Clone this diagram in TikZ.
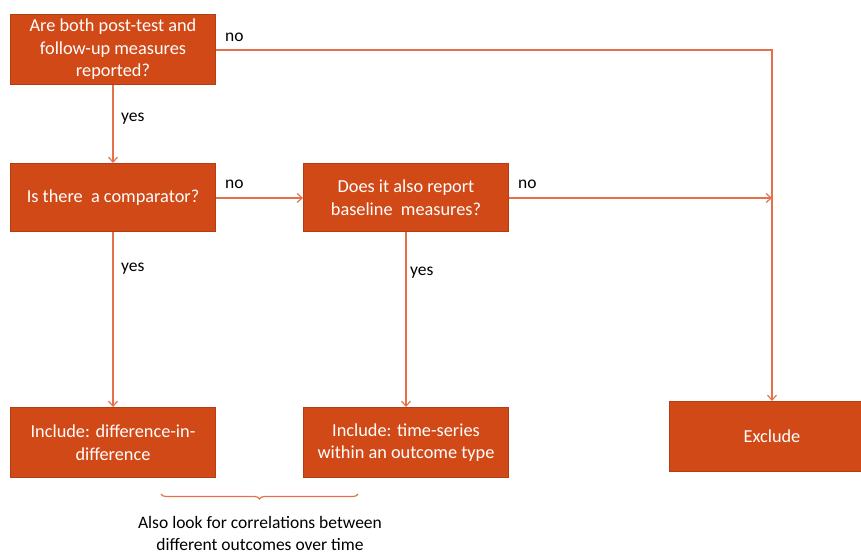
\documentclass[tikz,border=0pt]{standalone}
\usepackage{fontspec}
\setmainfont{Carlito}
\usetikzlibrary{arrows.meta,decorations.pathreplacing}
\definecolor{boxfill}{HTML}{D14917}
\definecolor{boxline}{HTML}{B53D14}
\definecolor{conn}{HTML}{E4714C}
\begin{document}
\begin{tikzpicture}[x=1pt,y=-1pt,
  box/.style={draw=boxline,line width=1pt,fill=boxfill,text=white,minimum width=205pt,minimum height=70pt,align=center,font=\fontsize{18.3}{22.5}\selectfont,inner sep=2pt,anchor=north west},
  conn/.style={draw=conn,line width=1.2pt,-{Straight Barb[length=5pt,width=9pt]}},
  lbl/.style={font=\fontsize{17.5}{20}\selectfont,text=black,inner sep=0pt,anchor=west}]
\useasboundingbox (0,0) rectangle (861,556);
\begin{scope}
\clip (0,0) rectangle (861,556);
\node[box] (q1) at (10,14) {\rule{0pt}{6pt}Are both post-test and\\follow-up measures\\reported?};
\node[box,minimum height=68pt] (q2) at (10,163) {Is there\ \ a comparator?};
\node[box,minimum height=68pt] (q3) at (303,163) {Does it also report\\baseline\ \ measures?};
\node[box] (i1) at (10,407) {Include: difference-in-\\difference};
\node[box] (i2) at (303,407) {Include: time-series\\within an outcome type};
\node[box] (ex) at (669,401) {Exclude};
\end{scope}
\coordinate (c1) at (772,50);
\coordinate (c2) at (772,198);
\draw[conn] (q1.south) -- (q2.north);
\node[lbl] (y1) at (121,119) {yes};
\draw[conn] (q2.south) -- (i1.north);
\node[lbl] (y2) at (121,269) {yes};
\draw[conn] (q3.south) -- (i2.north);
\node[lbl] (y3) at (410,273) {yes};
\draw[conn] (q2.east |- c2) -- (q3.west |- c2);
\node[lbl] (no2) at (225,184) {no};
\draw[conn] (q3.east |- c2) -- (c2);
\node[lbl] (no3) at (518,184) {no};
\draw[conn] (q1.east |- c1) -- (c1) -- (ex.north -| c1);
\node[lbl] (no1) at (225,37) {no};
\draw[draw=conn,line width=1.2pt,decorate,decoration={brace,mirror,amplitude=5pt}] (161,494) -- (358,494);
\node[lbl,anchor=center,align=center,font=\fontsize{17.5}{22}\selectfont] (note) at (260,533) {Also look for correlations between\\different outcomes over time};
\end{tikzpicture}
\end{document}
